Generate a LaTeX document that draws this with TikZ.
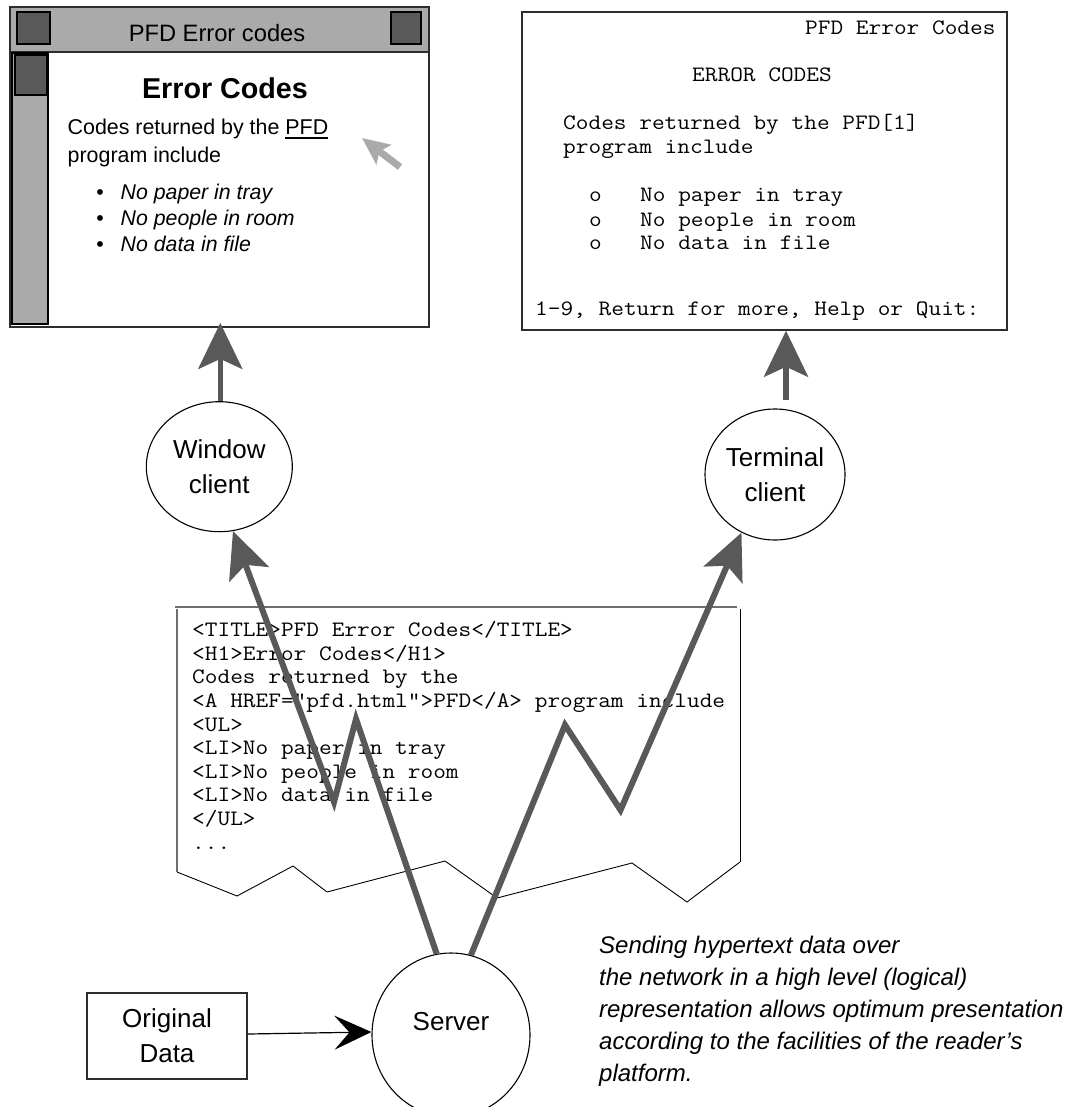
\documentclass[tikz,border=0pt]{standalone}
\usepackage{fontspec}
\setmainfont{Liberation Sans}
\newfontfamily\monof[FakeStretch=1.12]{Latin Modern Mono}
\usetikzlibrary{arrows.meta,shapes.geometric,calc}
\definecolor{dgray}{RGB}{89,89,89}
\definecolor{mgray}{RGB}{170,170,170}
\definecolor{bord}{RGB}{45,45,45}
\definecolor{lgray}{RGB}{110,110,110}
\newcommand\myul[1]{\setbox0=\hbox{#1}\rlap{\rule[-4.3pt]{\wd0}{2pt}}\box0}
\begin{document}
\begin{tikzpicture}[x=1pt,y=-1pt,
  client/.style={draw, line width=1.1pt, ellipse, inner sep=0pt, align=center, font=\fontsize{26}{35}\selectfont},
  netarrow/.style={dgray, line width=6pt, miter limit=20, -{Stealth[length=46pt,width=42pt,inset=10pt]}},
  uparrow/.style={dgray, line width=5.5pt, -{Stealth[length=46pt,width=44pt,inset=10pt]}},
  sq/.style={draw=black, fill=dgray, line width=1.5pt},
  mono/.style={font=\monof\fontsize{22}{24}\selectfont, inner sep=0pt, anchor=base west},
  wtxt/.style={inner sep=0pt, anchor=base west, font=\fontsize{21.4}{27}\selectfont},
  witem/.style={inner sep=0pt, anchor=base west, font=\fontsize{21.3}{27}\selectfont\itshape},
  wbul/.style={inner sep=0pt, anchor=base, font=\fontsize{21.3}{27}\selectfont},
  captxt/.style={inner sep=0pt, anchor=base west, font=\fontsize{24}{32}\selectfont\itshape},
]
\useasboundingbox (0,0) rectangle (1070,1107);
\fill[white] (0,0) rectangle (1070,1107);

% ---------- window client display ----------
\fill[mgray] (10,7) rectangle (429,52);
\draw[bord, line width=1.5pt] (10,52) -- (429,52);
\filldraw[fill=mgray, draw=black, line width=1.3pt] (12,53) rectangle (48,324);
\filldraw[sq] (15,55) rectangle (47,95);
\filldraw[sq] (17,12) rectangle (50,44);
\filldraw[sq] (391,12) rectangle (421,44);
\node[draw=bord, line width=1.8pt, minimum width=419pt, minimum height=320pt, inner sep=0pt] (wbox) at (219.5,167) {};
\node[inner sep=0pt, anchor=base, font=\fontsize{23.7}{28}\selectfont] (wtitle) at (217,42) {PFD Error codes};
\node[inner sep=0pt, anchor=base, font=\fontsize{28.7}{34}\selectfont\bfseries] (whead) at (225,98.3) {Error Codes};
\node[wtxt] (wl1) at (67.5,135) {Codes returned by the \myul{PFD}};
\node[wtxt] (wl2) at (67.5,162.3) {program include};
\node[wbul] (wb1) at (100,199.3) {•};
\node[wbul] (wb2) at (100,225.7) {•};
\node[wbul] (wb3) at (100,251.7) {•};
\node[witem] (wi1) at (120.5,199.3) {No paper in tray};
\node[witem] (wi2) at (120.5,225.7) {No people in room};
\node[witem] (wi3) at (120.5,251.7) {No data in file};
\draw[mgray, line width=7pt, -{Stealth[length=27pt,width=24pt,inset=5pt]}] (400,167) -- (362,138);

% ---------- terminal display ----------
\node[draw=bord, line width=1.5pt, minimum width=485pt, minimum height=318pt, inner sep=0pt] (tbox) at (764.5,171) {};
\node[mono] (t1) at (805,34.3) {PFD Error Codes};
\node[mono] (t2) at (692,81.7) {ERROR CODES};
\node[mono] (t3) at (563,130) {Codes returned by the PFD[1]};
\node[mono] (t4) at (563,154) {program include};
\node[mono] (tb1) at (589,201.7) {o};
\node[mono] (tb2) at (589,226) {o};
\node[mono] (tb3) at (589,250) {o};
\node[mono] (ti1) at (640,201.7) {No paper in tray};
\node[mono] (ti2) at (640,226) {No people in room};
\node[mono] (ti3) at (640,250) {No data in file};
\node[mono] (t5) at (535,315) {1-9, Return for more, Help or Quit:};

% ---------- HTML source ----------
\draw[lgray, line width=2pt] (175,607) -- (737,607);
\draw[lgray, line width=1.5pt] (177,609) -- (177,872);
\draw[black, line width=1pt] (740,609) -- (740,862);
\draw[black, line width=0.9pt] (177,872) -- (237,896) -- (293,866) -- (327,892) -- (445,861) -- (497,898) -- (632,863) -- (687,902) -- (740,862);
\node[mono] (h1) at (192,636.7) {<TITLE>PFD Error Codes</TITLE>};
\node[mono] (h2) at (192,660.3) {<H1>Error Codes</H1>};
\node[mono] (h3) at (192,683.9) {Codes returned by the};
\node[mono] (h4) at (192,707.5) {<A HREF="pfd.html">PFD</A> program include};
\node[mono] (h5) at (192,731.1) {<UL>};
\node[mono] (h6) at (192,754.7) {<LI>No paper in tray};
\node[mono] (h7) at (192,778.3) {<LI>No people in room};
\node[mono] (h8) at (192,801.9) {<LI>No data in file};
\node[mono] (h9) at (192,825.5) {</UL>};
\node[mono] (h10) at (192,849.1) {...};

% ---------- clients and server ----------
\node[client, minimum width=146pt, minimum height=130pt] (wc) at (219.3,466.7) {Window\\client};
\node[client, minimum width=140pt, minimum height=131pt] (tc) at (775,474.5) {Terminal\\client};
\node[client, minimum width=158pt, minimum height=164pt, text height=19pt, text depth=29pt] (server) at (451,1035) {Server};
\node[draw=bord, line width=1.3pt, minimum width=160pt, minimum height=86pt, inner sep=0pt, align=center, font=\fontsize{26}{35}\selectfont] (od) at (167,1036) {Original\\Data};

% ---------- connectors ----------
\draw[uparrow] ([xshift=1pt]wc.north) -- ([xshift=1pt,yshift=5pt]wc.north |- wbox.south);
\draw[uparrow] ([xshift=11pt,yshift=8pt]tc.north) -- ([xshift=11pt]tc.north |- tbox.south);
\draw[line width=1.2pt, -{Stealth[length=37pt,width=34pt,inset=15pt]}] ([yshift=2pt]od.east) -- ([yshift=3pt]server.west);

\coordinate (lpeak) at (356,719);
\coordinate (lvalley) at (334,802);
\coordinate (rpeak) at (565,725);
\coordinate (rvalley) at (620.5,810);
\draw[netarrow] (server.100) -- (lpeak) -- (lvalley) -- (wc.-78);
\draw[netarrow] (server.76) -- (rpeak) -- (rvalley) -- (tc.-120);

% ---------- caption ----------
\node[captxt] (cap1) at (599,953) {Sending hypertext data over};
\node[captxt] (cap2) at (599,985.2) {the network in a high level (logical)};
\node[captxt] (cap3) at (599,1017.4) {representation allows optimum presentation};
\node[captxt] (cap4) at (599,1049.6) {according to the facilities of the reader’s};
\node[captxt] (cap5) at (599,1081.8) {platform.};
\end{tikzpicture}
\end{document}
